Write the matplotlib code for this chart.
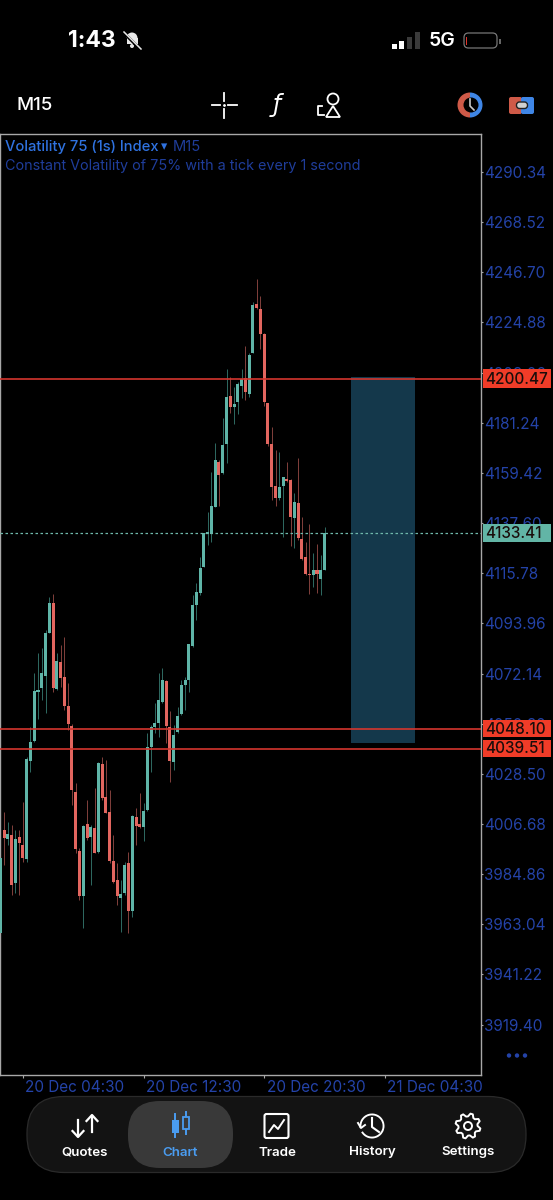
import numpy as np
import matplotlib
matplotlib.use("Agg")
import matplotlib.pyplot as plt
from matplotlib.patches import Rectangle, Circle, FancyBboxPatch, Wedge, Polygon
from matplotlib.transforms import ScaledTranslation, blended_transform_factory

plt.rcParams['font.family'] = ['Inter', 'DejaVu Sans']

opens = [3959.1, 4004.1, 4000.3, 4001.9, 3980.9, 4001.2, 3997.5, 3991.4, 4034.1, 4042.8,
         4064.3, 4065.7, 4071.2, 4089.6, 4103.0, 4065.4, 4077.2, 4070.8, 4058.0, 4049.3,
         4020.5, 3994.9, 3975.5, 4006.5, 4000.9, 4005.1, 3994.4, 4032.8, 4018.3, 4012.0,
         3990.6, 3982.2, 3974.6, 3976.5, 3989.6, 3969.0, 4009.9, 4006.7, 4005.5, 4012.8,
         4040.3, 4048.7, 4050.5, 4059.6, 4069.0, 4048.7, 4033.5, 4046.7, 4054.5, 4067.0,
         4069.2, 4084.1, 4102.1, 4107.0, 4118.6, 4132.7, 4132.8, 4144.7, 4164.3, 4159.2,
         4172.0, 4192.9, 4187.9, 4190.1, 4197.4, 4200.6, 4193.9, 4211.7, 4232.8, 4230.7,
         4219.9, 4189.7, 4172.0, 4153.6, 4148.4, 4153.7, 4156.6, 4156.2, 4139.8, 4146.5,
         4130.8, 4123.0, 4115.4, 4115.2, 4117.2, 4113.4, 4117.3]
highs = [3991.7, 4012.0, 4007.7, 4006.2, 4004.1, 4004.1, 4016.4, 4036.0, 4049.0, 4072.2,
         4080.9, 4083.1, 4091.1, 4105.6, 4106.8, 4080.9, 4084.6, 4088.2, 4067.9, 4050.2,
         4024.4, 3996.1, 4006.2, 4017.1, 4006.2, 4022.2, 4033.8, 4036.0, 4034.5, 4021.5,
         4001.9, 3989.6, 3982.3, 3990.3, 3994.6, 4010.6, 4013.5, 4020.0, 4015.7, 4046.1,
         4049.8, 4059.2, 4072.2, 4074.4, 4069.3, 4056.0, 4049.8, 4057.7, 4069.3, 4070.8,
         4085.0, 4106.3, 4111.4, 4123.0, 4133.4, 4142.6, 4160.0, 4172.3, 4165.0, 4183.2,
         4204.5, 4201.3, 4196.9, 4199.1, 4204.5, 4214.6, 4211.4, 4233.9, 4243.8, 4236.4,
         4220.2, 4190.0, 4179.5, 4169.4, 4168.7, 4157.8, 4164.3, 4156.6, 4150.5, 4165.8,
         4140.4, 4129.5, 4137.2, 4124.4, 4128.5, 4123.7, 4136.0]
lows = [3959.1, 3988.8, 3997.5, 3975.8, 3976.5, 3975.8, 3990.3, 3990.3, 4029.4, 4042.5,
        4052.2, 4060.6, 4054.8, 4089.6, 4064.3, 4065.0, 4066.4, 4056.3, 4047.6, 4014.9,
        3993.9, 3973.6, 3961.3, 3999.7, 3980.1, 3993.9, 3993.9, 4017.1, 4011.3, 3989.6,
        3980.9, 3971.4, 3959.8, 3975.8, 3959.1, 3966.4, 3997.5, 4004.8, 3999.4, 4012.5,
        4029.4, 4046.1, 4044.7, 4059.2, 4042.1, 4024.8, 4030.2, 4046.1, 4054.1, 4056.3,
        4064.3, 4083.8, 4095.4, 4106.3, 4118.3, 4128.1, 4129.5, 4144.4, 4145.0, 4158.9,
        4163.6, 4185.3, 4180.7, 4185.0, 4191.9, 4191.1, 4192.6, 4211.4, 4230.6, 4213.2,
        4188.5, 4171.1, 4147.6, 4145.0, 4147.6, 4131.7, 4155.6, 4127.6, 4126.6, 4130.2,
        4121.5, 4115.0, 4106.7, 4109.9, 4107.3, 4106.3, 4117.2]
closes = [3991.7, 4000.4, 4002.3, 3980.1, 4000.2, 3998.3, 3991.7, 4034.9, 4042.5, 4064.5,
          4065.0, 4072.2, 4089.9, 4103.0, 4066.0, 4077.6, 4070.3, 4058.2, 4050.2, 4021.5,
          3995.8, 3975.5, 4005.8, 4000.4, 4005.5, 3994.2, 4033.4, 4017.8, 4011.6, 3990.7,
          3981.6, 3975.4, 3976.2, 3989.0, 3969.0, 4010.2, 4005.9, 4005.5, 4012.2, 4040.3,
          4049.0, 4050.5, 4060.5, 4069.2, 4049.5, 4034.1, 4045.5, 4053.7, 4067.0, 4069.5,
          4084.8, 4102.0, 4107.6, 4118.2, 4133.1, 4133.6, 4145.0, 4165.0, 4158.7, 4171.4,
          4192.4, 4187.9, 4189.4, 4198.2, 4200.3, 4194.6, 4210.9, 4232.5, 4231.0, 4220.0,
          4190.4, 4171.9, 4153.4, 4148.5, 4153.4, 4157.6, 4156.0, 4140.1, 4146.9, 4131.0,
          4122.1, 4115.4, 4115.2, 4117.0, 4115.6, 4117.3, 4133.3]

price_ticks = [4290.34, 4268.52, 4246.70, 4224.88, 4203.06, 4181.24, 4159.42, 4137.60, 4115.78,
               4093.96, 4072.14, 4050.32, 4028.50, 4006.68, 3984.86, 3963.04, 3941.22, 3919.40]
time_ticks = [6, 38, 70, 102]
time_labels = ["20 Dec 04:30", "20 Dec 12:30", "20 Dec 20:30", "21 Dec 04:30"]
red_levels = [4200.47, 4048.10, 4039.51]
last_price = 4133.41
zone_top = 4201.2
zone_bottom = 4042.0
zone_left = 93
zone_right = 110

W, H = 553, 1200
TEAL = "#5fb5a8"
RED = "#e2665f"
BLUE = "#2443a8"
BRIGHT = "#2f72e0"
GREY = "#a8a8a8"
BADGE = "#f03c28"

fig = plt.figure(figsize=(W / 100, H / 100), dpi=100, facecolor="black")


def axes_box(left, top, right, bottom):
    return [left / W, 1 - bottom / H, (right - left) / W, (bottom - top) / H]


def drawCandles(ax):
    for i in range(len(opens)):
        up = closes[i] >= opens[i]
        ax.vlines(i, lows[i], highs[i], color="#2f6b63" if up else "#83403c", lw=0.7, zorder=2)
        ax.bar(i, abs(closes[i] - opens[i]), bottom=min(opens[i], closes[i]), width=0.8,
               color=TEAL if up else RED, lw=0, zorder=3)


def drawChart():
    ax = fig.add_axes(axes_box(0, 134, 481, 1075))
    ax.set_facecolor("black")
    ax.set_xlim(-0.08, 127.5)
    ax.set_ylim(3897.47, 4306.87)
    drawCandles(ax)

    ax.add_patch(Rectangle((zone_left, zone_bottom), zone_right - zone_left, zone_top - zone_bottom,
                           facecolor="#14384b", lw=0, zorder=1))
    for level in red_levels:
        ax.axhline(level, color="#d4362e", lw=1.2, zorder=4)
    ax.axhline(last_price, color="#6fb8ab", lw=0.9, ls=(0, (2, 2)), zorder=4)

    for s in ax.spines.values():
        s.set_color(GREY)
        s.set_linewidth(1.0)

    ax.yaxis.tick_right()
    ax.set_yticks(price_ticks)
    ax.set_yticklabels(["%.2f" % p for p in price_ticks])
    ax.set_xticks(time_ticks)
    ax.set_xticklabels(time_labels)
    ax.tick_params(axis="y", colors=GREY, labelcolor=BLUE, length=1.5, width=0.8, pad=1, labelsize=11)
    ax.tick_params(axis="x", colors=GREY, labelcolor=BLUE, length=2, width=0.8, pad=1.5, labelsize=11)
    shift = ScaledTranslation(2.5 / 100, 0, fig.dpi_scale_trans)
    for lab in ax.get_xticklabels():
        lab.set_ha("left")
        lab.set_transform(lab.get_transform() + shift)

    # price badges sit over the tick labels
    trans = blended_transform_factory(ax.transAxes, ax.transData)
    for level, col, span in [(red_levels[0], BADGE, 8.0), (last_price, "#62b5a6", 8.0),
                             (red_levels[1], BADGE, 7.4), (red_levels[2], BADGE, 7.4)]:
        ax.add_patch(Rectangle((1.0047, level - span / 2), 0.1417, span, transform=trans, facecolor=col,
                               lw=0, clip_on=False, zorder=6))
        ax.text(1.0095, level - 0.2, "%.2f" % level, transform=trans, color="#1a0d0b", fontsize=11,
                fontweight="medium", va="center", ha="left", clip_on=False, zorder=7)


def drawChrome():
    ui = fig.add_axes([0, 0, 1, 1], zorder=10)
    ui.set_xlim(0, W)
    ui.set_ylim(H, 0)
    ui.axis("off")
    ui.patch.set_alpha(0)

    # status bar
    ui.text(68, 41, "1:43", color="white", fontsize=16.5, fontweight="bold", va="center")
    ui.add_patch(Wedge((132, 38), 5.5, 180, 360, color="#e8e8e8", lw=0))
    ui.add_patch(Rectangle((126.5, 38), 11, 6, color="#e8e8e8", lw=0))
    ui.add_patch(Circle((132, 46), 2, color="#e8e8e8", lw=0))
    ui.plot([124, 141], [33, 50], color="black", lw=2.2)
    ui.plot([124, 141], [32, 49], color="#e8e8e8", lw=1.1)
    for x, h, c in [(392, 5, "white"), (399, 8, "white"), (407, 12, "#3a3a3a"), (415, 17, "#3a3a3a")]:
        ui.add_patch(Rectangle((x, 49 - h), 4.5, h, color=c, lw=0))
    ui.text(429, 41, "5G", color="white", fontsize=14, fontweight="semibold", va="center")
    ui.add_patch(FancyBboxPatch((464, 33), 33, 15, boxstyle="round,pad=0,rounding_size=4.5",
                                facecolor="none", edgecolor="#777777", lw=0.9))
    ui.add_patch(Rectangle((466, 36.5), 1.3, 8, color="#e0352b", lw=0))
    ui.add_patch(Rectangle((499, 38.5), 1.6, 5, color="#666666", lw=0))

    # toolbar
    ui.text(17, 105, "M15", color="white", fontsize=13.5, fontweight="medium", va="center")
    for a, b in [((212, 105), (220, 105)), ((228, 105), (237, 105)), ((224, 93), (224, 101)), ((224, 109), (224, 118))]:
        ui.plot([a[0], b[0]], [a[1], b[1]], color="white", lw=1.3)
    ui.plot([224], [105], ".", color="white", ms=2)
    ui.text(277, 105, "\u0192", color="white", fontsize=17, style="italic", va="center", ha="center",
            family="DejaVu Sans")
    ui.add_patch(Circle((333, 99), 5.5, fill=False, edgecolor="white", lw=1.3))
    ui.add_patch(Polygon([(333, 106), (340, 117), (326, 117)], fill=False, edgecolor="white", lw=1.3))
    ui.plot([322, 318, 318, 324], [106, 106, 115, 115], color="white", lw=1.3)
    ui.add_patch(Wedge((470, 105), 12.5, 90, 270, color="#cf5a48", lw=0))
    ui.add_patch(Wedge((470, 105), 12.5, 270, 90, color="#3f86e6", lw=0))
    ui.add_patch(Circle((471, 105), 7.5, color="black", lw=0))
    ui.plot([470, 470, 474], [99, 106, 110], color="#c9c9c9", lw=1.2)
    ui.add_patch(FancyBboxPatch((509, 97), 13, 17, boxstyle="round,pad=0,rounding_size=2", facecolor="#cf5a48", lw=0))
    ui.add_patch(FancyBboxPatch((521, 97), 13, 17, boxstyle="round,pad=0,rounding_size=2", facecolor="#3f86e6", lw=0))
    ui.add_patch(FancyBboxPatch((516.5, 102), 11, 6.5, boxstyle="round,pad=0,rounding_size=3",
                                facecolor="#d0d0d0", edgecolor="#222222", lw=1.0))

    # chart header
    ui.text(5, 147, "Volatility 75 (1s) Index", color=BRIGHT, fontsize=10.6, fontweight="medium", va="center")
    ui.text(161, 147, "\u25BE", color=BRIGHT, fontsize=9, va="center", family="DejaVu Sans")
    ui.text(173, 147, "M15", color="#1f3d9a", fontsize=10.6, va="center")
    ui.text(5, 166, "Constant Volatility of 75% with a tick every 1 second", color="#1f3d9a", fontsize=10.36, va="center")
    for x in [509, 517, 525]:
        ui.add_patch(Circle((x, 1055.5), 2.2, color=BLUE, lw=0))

    # bottom navigation
    ui.add_patch(FancyBboxPatch((27, 1096.5), 499, 76, boxstyle="round,pad=0,rounding_size=37",
                                facecolor="#131313", edgecolor="#2a2a2a", lw=0.9))
    ui.add_patch(FancyBboxPatch((128, 1101), 105, 67, boxstyle="round,pad=0,rounding_size=32",
                                facecolor="#393939", lw=0))
    for x, name, col in [(85, "Quotes", "white"), (180, "Chart", "#4a9cf0"), (277, "Trade", "white"),
                         (372, "History", "white"), (468, "Settings", "white")]:
        ui.text(x, 1152.5, name, color=col, fontsize=9.6, fontweight="semibold", va="center", ha="center")

    # quotes arrows
    ui.plot([78, 78], [1120, 1136], color="white", lw=1.6)
    ui.plot([72.5, 78, 83.5], [1131, 1137, 1131], color="white", lw=1.6)
    ui.plot([92, 92], [1116, 1132], color="white", lw=1.6)
    ui.plot([86.5, 92, 97.5], [1121, 1115, 1121], color="white", lw=1.6)
    # chart icon
    ui.plot([175, 175], [1114, 1137], color="#4a9cf0", lw=1.4)
    ui.add_patch(Rectangle((172, 1120), 6.5, 13, color="#4a9cf0", lw=0))
    ui.plot([186, 186], [1112, 1134], color="#4a9cf0", lw=1.4)
    ui.add_patch(Rectangle((182.5, 1117), 6.5, 12, facecolor="#393939", edgecolor="#4a9cf0", lw=1.3, zorder=3))
    # trade icon
    ui.add_patch(FancyBboxPatch((264.5, 1114), 24, 24, boxstyle="round,pad=0,rounding_size=2",
                                facecolor="none", edgecolor="white", lw=1.5))
    ui.plot([269, 274, 278, 284], [1132, 1125, 1129, 1120], color="white", lw=1.4)
    # history icon
    ui.add_patch(Wedge((372, 1126), 12.5, 170, 150, width=1.9, color="white", lw=0))
    ui.plot([372, 372, 379], [1118, 1127, 1132], color="white", lw=1.5)
    ui.plot([358, 361, 365], [1123, 1128, 1125], color="white", lw=1.4)
    # settings gear, eight teeth
    ang = np.deg2rad(np.arange(0, 360, 11.25) + 22.5 / 2)
    rad = np.array([12.6, 12.6, 9.6, 9.6] * 8)
    ui.add_patch(Polygon(np.c_[468 + rad * np.cos(ang), 1126 + rad * np.sin(ang)], fill=False,
                         edgecolor="white", lw=1.4, joinstyle="round"))
    ui.add_patch(Circle((468, 1126), 4, fill=False, edgecolor="white", lw=1.4))


drawChart()
drawChrome()
fig.savefig("out.png", dpi=100, facecolor="black")
